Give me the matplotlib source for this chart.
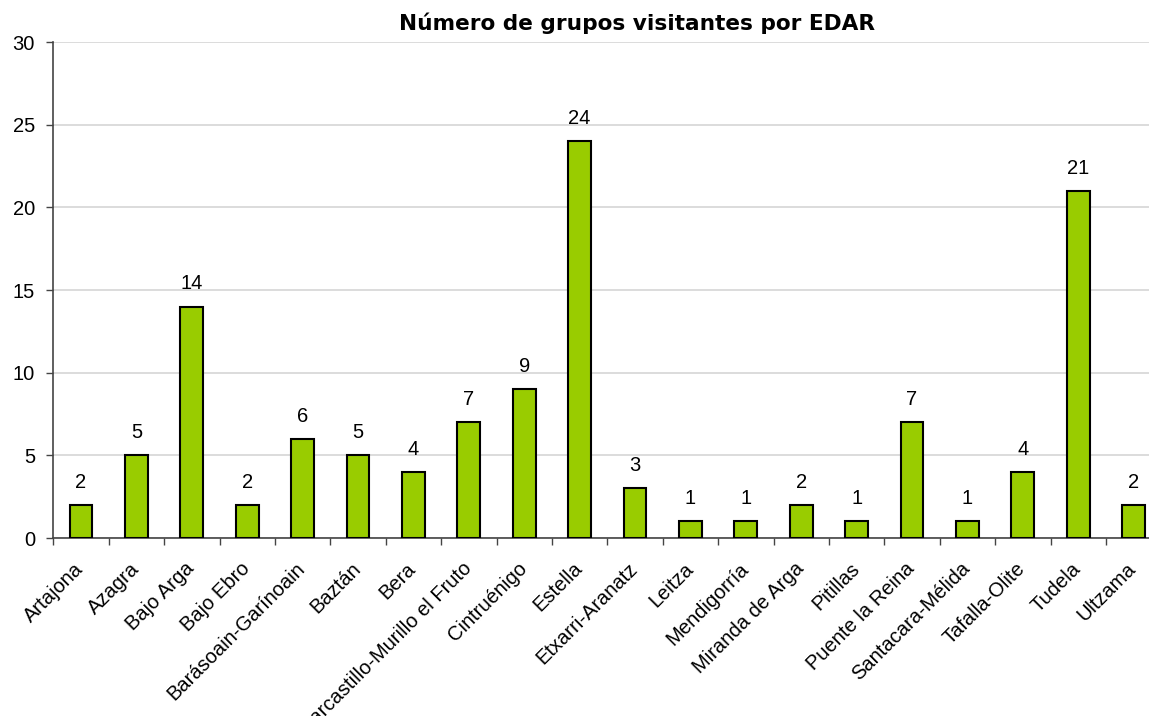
import matplotlib
matplotlib.use("Agg")
import matplotlib.pyplot as plt
from matplotlib.transforms import ScaledTranslation

categories = ["Artajona", "Azagra", "Bajo Arga", "Bajo Ebro", "Barásoain-Garínoain",
              "Baztán", "Bera", "Carcastillo-Murillo el Fruto", "Cintruénigo", "Estella",
              "Etxarri-Aranatz", "Leitza", "Mendigorría", "Miranda de Arga", "Pitillas",
              "Puente la Reina", "Santacara-Mélida", "Tafalla-Olite", "Tudela", "Ultzama"]
values = [2, 5, 14, 2, 6, 5, 4, 7, 9, 24, 3, 1, 1, 2, 1, 7, 1, 4, 21, 2]
yticks = [0, 5, 10, 15, 20, 25, 30]
title = "Número de grupos visitantes por EDAR"

plt.rcParams['font.family'] = ['Liberation Sans', 'DejaVu Sans']

W, H = 1149, 716
fig = plt.figure(figsize=(W / 100, H / 100), dpi=100)
left_px, right_px, top_px, bottom_px = 53.3, 1161.3, 42, 538
ax = fig.add_axes([left_px / W, 1 - bottom_px / H, (right_px - left_px) / W, (bottom_px - top_px) / H])

x = list(range(len(categories)))
ax.bar(x, values, width=0.415, color="#99CC00", edgecolor="black", linewidth=1.5, zorder=3)

for xi, v in zip(x, values):
    ax.annotate(str(v), (xi, v), xytext=(0, 9.5), textcoords="offset points",
                ha="center", va="bottom", fontsize=14.5, color="black")

ax.set_xlim(-0.5, len(categories) - 0.5)
ax.set_ylim(0, 30)
ax.set_yticks(yticks)
ax.set_yticklabels([str(t) for t in yticks], fontsize=14.5)
ax.tick_params(axis="y", length=4.7, width=1, color="#444444", pad=8.5)

ax.set_xticks([i - 0.5 for i in range(len(categories) + 1)], minor=False)
ax.set_xticklabels([])
ax.set_xticks(x, minor=True)
ax.set_xticklabels(categories, minor=True, rotation=45, ha="right", va="top",
                   rotation_mode="anchor", fontsize=14.5)
ax.tick_params(axis="x", which="minor", length=0, pad=0)
ax.tick_params(axis="x", which="major", length=5, width=1, color="#444444")
offset = ScaledTranslation(-7 / 100, -21 / 100, fig.dpi_scale_trans)
for lbl in ax.get_xticklabels(minor=True):
    lbl.set_transform(lbl.get_transform() + offset)

ax.grid(axis="y", color="#d9d9d9", linewidth=1.3, zorder=0)
ax.set_axisbelow(True)
for s in ["top", "right"]:
    ax.spines[s].set_visible(False)
ax.spines["left"].set_color("#444444")
ax.spines["bottom"].set_color("#444444")
ax.spines["left"].set_linewidth(1.2)
ax.spines["bottom"].set_linewidth(1.2)

fig.text(637 / W, 1 - 23 / H, title, ha="center", va="center", fontsize=15.6,
         fontweight="bold", family=["DejaVu Sans"])

fig.savefig("out.png", dpi=100)
